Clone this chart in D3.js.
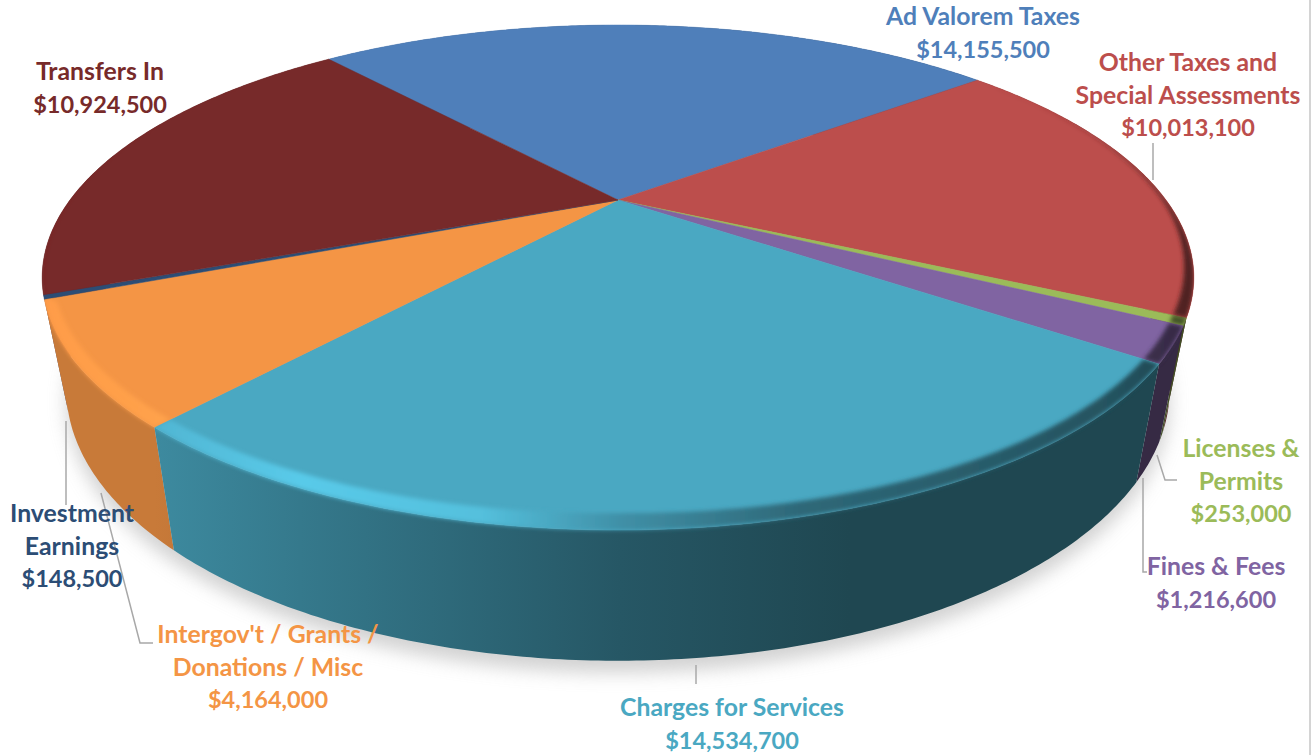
<!DOCTYPE html>
<html>
<head>
<meta charset="utf-8">
<script src="https://cdn.jsdelivr.net/npm/d3@7"></script>
<style>
  html, body { margin: 0; padding: 0; background: #fff; overflow: hidden; }
  text { font-family: Lato, "Open Sans", sans-serif; font-weight: 700; font-size: 24.8px; text-anchor: middle; }
  tspan.amount { font-size: 23.5px; }
</style>
</head>
<body>
<div id="chart"></div>
<script>
// values, clockwise from the Transfers In / Ad Valorem boundary
const categories = ["Ad Valorem Taxes", "Other Taxes and|Special Assessments", "Licenses &|Permits", "Fines & Fees",
  "Charges for Services", "Intergov't / Grants /|Donations / Misc", "Investment|Earnings", "Transfers In"];
const amounts = [14155500, 10013100, 253000, 1216600, 14534700, 4164000, 148500, 10924500];
const colors = ["#4f7fba", "#bc4e4c", "#9bbb59", "#8064a2", "#4aa8c2", "#f49545", "#2c4d75", "#772a2a"];

// label anchor (middle x, first baseline) and leader line, same order as categories
const labelPos = [[983, 25], [1188, 71], [1241, 457], [1216, 575], [732, 716], [268, 643], [72, 522], [100, 80]];
const leaders = [
  null,
  [[1153, 143], [1153, 180]],
  [[1157, 455], [1165, 480], [1177, 480]],
  [[1143, 478], [1143, 572], [1147, 572]],
  [[696, 665], [696, 684]],
  [[101, 493], [140, 643], [153, 643]],
  [[66, 421], [66, 505]],
  null
];

const width = 1314, height = 755;

// perspective of the disc: v runs from the back (-1) to the front (+1)
const persp = 0.307;
const x = d3.scaleLinear().domain([-1, 1]).range([618 - 548, 618 + 548]);
const y = d3.scaleLinear().domain([-1, 1]).range([200 - 228.7, 200 + 228.7]);
// the lower rim of the wall is the top rim squeezed and moved down
const wallX = d3.scaleLinear().domain([618, 1618]).range([618, 1576]);
const wallY = d3.scaleLinear().domain([200, 1200]).range([306, 1381]);

const startDeg = -40.6;
const start = startDeg * Math.PI / 180;

// how far the rounded rim reaches in, by angle past the start: none at the back
const rimWidth = d3.scaleLinear()
  .domain([0, 90, 100, 130, 160, 220, 270, 287, 289, 360])
  .range([0, 0, .001, .006, .022, .036, .024, .018, .001, 0]);

function topPoint(a, r = 1) {
  const u = r * Math.sin(a), v = -r * Math.cos(a);
  const k = 1 - persp * v;
  return [x(u / k), y(v / k)];
}
function wallPoint(a) {
  const p = topPoint(a);
  return [wallX(p[0]), wallY(p[1])];
}
function samples(d) {
  const n = Math.max(2, Math.ceil((d.endAngle - d.startAngle) / 0.01));
  return d3.range(n + 1).map(i => d.startAngle + (d.endAngle - d.startAngle) * i / n);
}

const pie = d3.pie().sort(null).startAngle(start).endAngle(start + 2 * Math.PI);
const slices = pie(amounts).map((d, i) => Object.assign(d, {i}));

const line = d3.line();
const closed = pts => line(pts) + "Z";

const svg = d3.select("#chart").append("svg").attr("width", width).attr("height", height);
const defs = svg.append("defs");

defs.append("filter").attr("id", "shadowBlur")
  .attr("x", "-10%").attr("y", "-10%").attr("width", "120%").attr("height", "120%")
  .append("feGaussianBlur").attr("stdDeviation", 9);
defs.append("filter").attr("id", "bevelBlur")
  .attr("filterUnits", "userSpaceOnUse")
  .attr("x", 0).attr("y", 0).attr("width", width).attr("height", height)
  .append("feGaussianBlur").attr("stdDeviation", 2);

// shading along x, multiplied on the slice colour
const wallShade = [[42, .82], [155, .82], [300, .72], [620, .52], [850, .42], [1194, .42]];
const bevelShade = [[42, 1.05], [150, 1.08], [300, 1.2], [480, 1.14], [620, .86], [800, .62], [1100, .5], [1194, .42]];

function shade(c, f) {
  const r = d3.rgb(c);
  return d3.rgb(Math.min(255, r.r * f), Math.min(255, r.g * f), Math.min(255, r.b * f)).formatHex();
}
function addGradient(id, color, stops) {
  const g = defs.append("linearGradient").attr("id", id)
    .attr("gradientUnits", "userSpaceOnUse")
    .attr("x1", 42).attr("x2", 1194).attr("y1", 0).attr("y2", 0);
  stops.forEach(s => g.append("stop")
    .attr("offset", (s[0] - 42) / (1194 - 42))
    .attr("stop-color", shade(color, s[1])));
}
colors.forEach((c, i) => {
  addGradient("wall" + i, c, wallShade);
  addGradient("bevel" + i, c, bevelShade);
});

function wallPath(d) {
  const as = samples(d);
  return closed(as.map(a => topPoint(a)).concat(as.slice().reverse().map(wallPoint)));
}
function topPath(d) {
  return closed([[x(0), y(0)]].concat(samples(d).map(a => topPoint(a))));
}
function bevelPath(d) {
  const as = samples(d);
  const inner = a => topPoint(a, 1 - rimWidth((a - start) * 180 / Math.PI));
  return closed(as.map(a => topPoint(a)).concat(as.slice().reverse().map(inner)));
}

// soft shadow under the wall
svg.append("path")
  .attr("d", closed(d3.range(0, 2 * Math.PI, .02).map(wallPoint).map(p => [p[0], p[1] + 12])))
  .attr("fill", "#b4b4b4")
  .attr("opacity", .6)
  .attr("filter", "url(#shadowBlur)");

// walls, back ones first
const meanY = d => d3.mean(samples(d), a => topPoint(a)[1]);
svg.append("g").selectAll("path")
  .data(slices.slice().sort((a, b) => meanY(a) - meanY(b)))
  .join("path")
  .attr("d", wallPath)
  .attr("fill", d => `url(#wall${d.i})`);

// top face
svg.append("g").selectAll("path")
  .data(slices)
  .join("path")
  .attr("d", topPath)
  .attr("fill", d => colors[d.i])
  .attr("stroke", d => colors[d.i])
  .attr("stroke-width", .5);

// rounded rim, clipped to the slice so the blur stays on the body
const clips = defs.selectAll("clipPath").data(slices).join("clipPath").attr("id", d => "clip" + d.i);
clips.append("path").attr("d", topPath);
clips.append("path").attr("d", wallPath);

svg.append("g").selectAll("g")
  .data(slices)
  .join("g")
  .attr("clip-path", d => `url(#clip${d.i})`)
  .append("path")
  .attr("d", bevelPath)
  .attr("fill", d => `url(#bevel${d.i})`)
  .attr("filter", "url(#bevelBlur)");

// leader lines
svg.append("g").selectAll("path")
  .data(leaders.filter(l => l))
  .join("path")
  .attr("d", line)
  .attr("fill", "none")
  .attr("stroke", "#a8a8a8")
  .attr("stroke-width", 1.5);

// labels
const money = d3.format("$,");
const labels = svg.append("g").selectAll("text")
  .data(categories)
  .join("text")
  .attr("fill", (d, i) => colors[i]);
labels.each(function(d, i) {
  const names = d.split("|");
  const rows = names.concat(money(amounts[i]));
  d3.select(this).selectAll("tspan")
    .data(rows)
    .join("tspan")
    .attr("class", (r, j) => j === names.length ? "amount" : null)
    .attr("x", labelPos[i][0])
    .attr("y", (r, j) => labelPos[i][1] + j * 32.5)
    .text(r => r);
});

// sliver of the frame at the right edge
svg.append("line")
  .attr("x1", 1310).attr("x2", 1310).attr("y1", 0).attr("y2", height)
  .attr("stroke", "#d4d4d4").attr("stroke-width", 2);
</script>
</body>
</html>
